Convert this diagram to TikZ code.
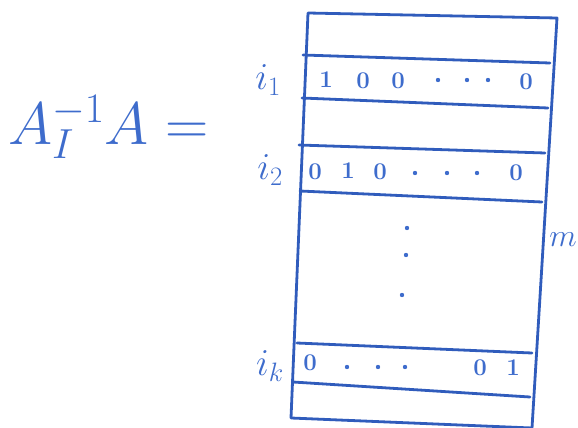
\RequirePackage{fix-cm}
\documentclass[tikz,border=0pt]{standalone}
\usepackage{amsmath}
\usepackage{tikz}
\usetikzlibrary{positioning}
\definecolor{penColor}{RGB}{48,92,188}
\definecolor{inkColor}{RGB}{62,108,204}
\tikzstyle{sheet} = [x = 1pt, y = -1pt]
\tikzstyle{matrixEdge} = [color=penColor, line width=2.8pt, line join=round, line cap=round]
\tikzstyle{rowLine} = [color=penColor, line width=2.8pt, line cap=round]
\tikzstyle{entryText} = [color=inkColor, font=\fontsize{24}{24}\selectfont, inner sep=0pt]
\tikzstyle{labelText} = [color=inkColor, font=\fontsize{38}{38}\selectfont, inner sep=0pt]
\tikzstyle{dotStyle} = [fill=inkColor, draw=none]
\newcommand{\matrixRow}[4]{\draw [rowLine] (#1, #2) -- (#3, #4);}
\newcommand{\entry}[4]{\node [entryText] (#1) at (#2, #3) {$\boldsymbol{#4}$};}
\newcommand{\inkDot}[2]{\fill [dotStyle] (#1, #2) circle (2.2pt);}
\begin{document}
\begin{tikzpicture}[sheet]
  \useasboundingbox (0,0) rectangle (578,428);
  % outer box of the matrix
  \draw [matrixEdge] (308,13) coordinate (TL) -- (557,18) coordinate (TR)
    -- (532,428) coordinate (BR) -- (291,418) coordinate (BL) -- cycle;
  % horizontal row lines
  \foreach \xl/\yl/\xr/\yr in {303/55/550/63, 302/98/548/108, 299/145/545/153,
    300/191/542/202, 297/343/532/353, 293/382/530/397} {
    \matrixRow{\xl}{\yl}{\xr}{\yr}
  }
  % left hand side
  \node [color=inkColor, font=\fontsize{60}{60}\selectfont, inner sep=0pt, anchor=west] (lhs) at (8,127) {$A_I^{-1}A =$};
  % row labels
  \node [labelText] (labelOne) at (268,80) {$i_1$};
  \node [labelText] (labelTwo) at (270,170) {$i_2$};
  \node [labelText] (labelK) at (270,366) {$i_k$};
  \node [labelText, font=\fontsize{32}{32}\selectfont, anchor=east] (labelM) at (577,240) {$m$};
  % row i_1
  \entry{a1}{326}{80}{1}
  \entry{a2}{363}{81}{0}
  \entry{a3}{398}{81}{0}
  \foreach \x in {438,467,488} {\inkDot{\x}{80}}
  \entry{a4}{526}{82}{0}
  % row i_2
  \entry{b1}{315}{172}{0}
  \entry{b2}{348}{171}{1}
  \entry{b3}{380}{172}{0}
  \foreach \x in {415,447,477} {\inkDot{\x}{173}}
  \entry{b4}{516}{173}{0}
  % row i_k
  \entry{c1}{310}{363}{0}
  \foreach \x in {347,378,405} {\inkDot{\x}{367}}
  \entry{c2}{480}{368}{0}
  \entry{c3}{513}{368}{1}
  % vertical dots
  \foreach \x/\y in {407/228, 406/255, 402/295} {\inkDot{\x}{\y}}
\end{tikzpicture}
\end{document}
